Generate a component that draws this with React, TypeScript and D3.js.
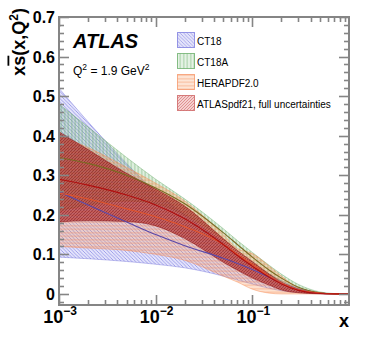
import * as d3 from "d3";
import { useEffect, useRef } from "react";

// x grid shared by all bands
const xs = [0.001, 0.002, 0.005, 0.01, 0.02, 0.05, 0.07, 0.1, 0.15, 0.2, 0.3, 0.5, 0.7, 1];

const ct18Up = [0.52, 0.435, 0.33, 0.258, 0.2, 0.13, 0.1, 0.075, 0.05, 0.034, 0.015, 0.003, 0.0006, 0];
const ct18Lo = [0.093, 0.089, 0.082, 0.075, 0.066, 0.045, 0.035, 0.025, 0.014, 0.008, 0.003, 0.0005, 0.0001, 0];
const ct18Mid = [0.258, 0.225, 0.182, 0.15, 0.122, 0.09, 0.077, 0.062, 0.042, 0.028, 0.012, 0.002, 0.0004, 0];

const ct18aUp = [0.48, 0.422, 0.345, 0.29, 0.24, 0.165, 0.135, 0.105, 0.072, 0.05, 0.024, 0.005, 0.001, 0];
const ct18aLo = [0.21, 0.225, 0.235, 0.228, 0.2, 0.138, 0.11, 0.08, 0.05, 0.032, 0.013, 0.002, 0.0003, 0];
const ct18aMid = [0.345, 0.33, 0.3, 0.268, 0.228, 0.155, 0.125, 0.093, 0.06, 0.04, 0.017, 0.003, 0.0005, 0];

const heraUp = [0.4, 0.37, 0.32, 0.28, 0.235, 0.15, 0.115, 0.102, 0.07, 0.045, 0.015, 0.002, 0.0003, 0];
const heraLo = [0.12, 0.116, 0.11, 0.1, 0.085, 0.045, 0.03, 0.012, 0.002, 0, 0, 0, 0, 0];
const heraMid = [0.255, 0.24, 0.215, 0.195, 0.17, 0.125, 0.1, 0.075, 0.045, 0.028, 0.011, 0.002, 0.0003, 0];

const atlasUp = [0.41, 0.365, 0.305, 0.265, 0.222, 0.14, 0.11, 0.082, 0.05, 0.03, 0.01, 0.001, 0.0002, 0];
const atlasLo = [0.182, 0.185, 0.183, 0.172, 0.14, 0.08, 0.06, 0.04, 0.022, 0.01, 0.003, 0.0003, 0, 0];
const atlasMid = [0.29, 0.275, 0.25, 0.225, 0.19, 0.125, 0.097, 0.07, 0.042, 0.025, 0.009, 0.001, 0.0002, 0];

const legendLabels = ["CT18", "CT18A", "HERAPDF2.0", "ATLASpdf21, full uncertainties"];
const yTicks = [0, 0.1, 0.2, 0.3, 0.4, 0.5, 0.6, 0.7];
const xTickExps = [-3, -2, -1];

const bands = [
  { id: "ct18", up: ct18Up, lo: ct18Lo, mid: ct18Mid, fill: "rgba(130,130,235,0.22)", hatch: "rgba(80,80,215,0.65)", edge: "rgba(90,90,210,0.6)", line: "#5a48a8", dir: "back" },
  { id: "ct18a", up: ct18aUp, lo: ct18aLo, mid: ct18aMid, fill: "rgba(130,195,130,0.25)", hatch: "rgba(70,150,70,0.6)", edge: "rgba(70,150,70,0.6)", line: "#7a6a22", dir: "vert" },
  { id: "hera", up: heraUp, lo: heraLo, mid: heraMid, fill: "rgba(250,160,100,0.3)", hatch: "rgba(245,120,60,0.55)", edge: "rgba(245,130,70,0.7)", line: "#e2532a", dir: "horz" },
  { id: "atlas", up: atlasUp, lo: atlasLo, mid: atlasMid, fill: "rgba(170,25,25,0.58)", hatch: "rgba(110,10,10,0.55)", edge: "rgba(140,15,15,0.85)", line: "#b00e0e", dir: "fwd" },
];

// lighter versions for the legend boxes
const legendFills = ["rgba(150,150,235,0.25)", "rgba(150,205,150,0.25)", "rgba(250,170,120,0.3)", "rgba(225,120,120,0.35)"];
const legendHatch = ["rgba(110,110,220,0.7)", "rgba(90,165,90,0.7)", "rgba(245,140,90,0.7)", "rgba(200,80,80,0.7)"];

const FONT = "'Liberation Sans', Arial, Helvetica, sans-serif";

const hatchPath = (dir, s) => {
  if (dir === "vert") return `M${s / 2},0 V${s}`;
  if (dir === "horz") return `M0,${s / 2} H${s}`;
  if (dir === "fwd") return `M0,${s} L${s},0 M${-s},${s} L0,0 M${s},${2 * s} L${2 * s},${s}`;
  return `M0,0 L${s},${s} M${-s},0 L0,${s} M${s},0 L${2 * s},${s}`;
};

const App = () => {
  const svgRef = useRef(null);

  useEffect(() => {
    const width = 368;
    const height = 364;
    const frame = { left: 59, right: 349, top: 17, bottom: 305 };

    const svg = d3.select(svgRef.current).attr("width", width).attr("height", height);
    svg.selectAll("*").remove();

    const x = d3.scaleLog().domain([1e-3, 1]).range([frame.left, frame.right]);
    const y = d3.scaleLinear().domain([-0.028, 0.7]).range([frame.bottom, frame.top]);

    // hatch patterns
    const defs = svg.append("defs");
    const addPattern = (id, dir, s, fill, hatch) => {
      const p = defs.append("pattern")
        .attr("id", id)
        .attr("patternUnits", "userSpaceOnUse")
        .attr("width", s)
        .attr("height", s);
      p.append("rect").attr("width", s).attr("height", s).attr("fill", fill);
      p.append("path").attr("d", hatchPath(dir, s)).attr("stroke", hatch).attr("stroke-width", 0.7).attr("fill", "none");
    };
    bands.forEach((b, i) => {
      const s = b.id === "atlas" ? 3 : 3.5;
      addPattern("pat-" + b.id, b.dir, s, b.fill, b.hatch);
      addPattern("leg-" + b.id, b.dir, s, legendFills[i], legendHatch[i]);
    });
    defs.append("clipPath").attr("id", "clip")
      .append("rect")
      .attr("x", frame.left).attr("y", frame.top)
      .attr("width", frame.right - frame.left).attr("height", frame.bottom - frame.top);

    const plot = svg.append("g").attr("clip-path", "url(#clip)");

    const area = d3.area()
      .x((d) => x(d[0]))
      .y0((d) => y(d[1]))
      .y1((d) => y(d[2]))
      .curve(d3.curveMonotoneX);
    const line = d3.line()
      .x((d) => x(d[0]))
      .y((d) => y(d[1]))
      .curve(d3.curveMonotoneX);

    bands.forEach((b) => {
      const rows = xs.map((v, i) => [v, b.lo[i], b.up[i]]);
      plot.append("path").datum(rows)
        .attr("d", area)
        .attr("fill", `url(#pat-${b.id})`)
        .attr("stroke", "none");
      plot.append("path").datum(rows.map((r) => [r[0], r[2]]))
        .attr("d", line).attr("fill", "none").attr("stroke", b.edge).attr("stroke-width", 0.6);
      plot.append("path").datum(rows.map((r) => [r[0], r[1]]))
        .attr("d", line).attr("fill", "none").attr("stroke", b.edge).attr("stroke-width", 0.6);
    });
    bands.forEach((b) => {
      plot.append("path").datum(xs.map((v, i) => [v, b.mid[i]]))
        .attr("d", line).attr("fill", "none").attr("stroke", b.line).attr("stroke-width", 1.1);
    });

    // frame
    const axisColor = "#858585";
    svg.append("rect")
      .attr("x", frame.left).attr("y", frame.top)
      .attr("width", frame.right - frame.left).attr("height", frame.bottom - frame.top)
      .attr("fill", "none").attr("stroke", axisColor).attr("stroke-width", 2);

    const ticks = svg.append("g").attr("stroke", axisColor).attr("stroke-width", 1.6);
    // y ticks (major every 0.1, minor every 0.02)
    d3.range(-0.02, 0.7001, 0.02).forEach((v) => {
      const major = Math.abs(v * 10 - Math.round(v * 10)) < 1e-6;
      const len = major ? 10 : 5;
      const yy = Math.round(y(v)) + 0.5;
      ticks.append("line").attr("x1", frame.left).attr("x2", frame.left + len).attr("y1", yy).attr("y2", yy);
      ticks.append("line").attr("x1", frame.right).attr("x2", frame.right - len).attr("y1", yy).attr("y2", yy);
    });
    // x ticks (log)
    [-3, -2, -1].forEach((e) => {
      for (let k = 1; k <= 9; k++) {
        const v = k * Math.pow(10, e);
        const len = k === 1 ? 10 : 5;
        const xx = Math.round(x(v)) + 0.5;
        ticks.append("line").attr("x1", xx).attr("x2", xx).attr("y1", frame.bottom).attr("y2", frame.bottom - len);
        ticks.append("line").attr("x1", xx).attr("x2", xx).attr("y1", frame.top).attr("y2", frame.top + len);
      }
    });

    // y tick labels
    svg.append("g").selectAll("text").data(yTicks).join("text")
      .attr("x", 55)
      .attr("y", (d) => y(d) + 6)
      .attr("text-anchor", "end")
      .attr("font-family", FONT).attr("font-weight", "bold").attr("font-size", 16)
      .text((d) => (d === 0 ? "0" : d3.format(".1f")(d)));

    // x tick labels
    const xl = svg.append("g").selectAll("text").data(xTickExps).join("text")
      .attr("x", (d) => x(Math.pow(10, d)) + 1)
      .attr("y", 323)
      .attr("text-anchor", "middle")
      .attr("font-family", FONT).attr("font-weight", "bold").attr("font-size", 18);
    xl.append("tspan").text("10");
    xl.append("tspan").attr("dy", -8).attr("font-size", 12).text((d) => "\u2212" + Math.abs(d));

    svg.append("text")
      .attr("x", 349).attr("y", 327).attr("text-anchor", "end")
      .attr("font-family", FONT).attr("font-weight", "bold").attr("font-size", 18)
      .text("x");

    // y title
    const yt = svg.append("text")
      .attr("transform", "translate(24.5,8) rotate(-90)")
      .attr("text-anchor", "end")
      .attr("font-family", FONT).attr("font-weight", "bold").attr("font-size", 18);
    yt.append("tspan").text("x");
    yt.append("tspan").attr("text-decoration", "overline").text("s");
    yt.append("tspan").text("(x,Q");
    yt.append("tspan").attr("dy", -7).attr("font-size", 12).text("2");
    yt.append("tspan").attr("dy", 7).text(")");

    // ATLAS label
    svg.append("text")
      .attr("x", 73).attr("y", 48)
      .attr("font-family", FONT).attr("font-weight", "bold").attr("font-style", "italic").attr("font-size", 20)
      .text("ATLAS");
    const q = svg.append("text")
      .attr("x", 73).attr("y", 75)
      .attr("font-family", FONT).attr("font-size", 12);
    q.append("tspan").text("Q");
    q.append("tspan").attr("dy", -5).attr("font-size", 8.5).text("2");
    q.append("tspan").attr("dy", 5).text(" = 1.9 GeV");
    q.append("tspan").attr("dy", -5).attr("font-size", 8.5).text("2");

    // legend
    const leg = svg.append("g");
    bands.forEach((b, i) => {
      const top = 32 + i * 21;
      leg.append("rect")
        .attr("x", 177.5).attr("y", top + 0.5).attr("width", 17).attr("height", 15)
        .attr("fill", `url(#leg-${b.id})`).attr("stroke", legendHatch[i]).attr("stroke-width", 1);
      leg.append("text")
        .attr("x", 197).attr("y", top + 12.5)
        .attr("font-family", FONT).attr("font-size", 10)
        .text(legendLabels[i]);
    });
  }, []);

  return <svg ref={svgRef} style={{ position: "absolute", left: 0, top: 0 }} />;
};

export default App;
